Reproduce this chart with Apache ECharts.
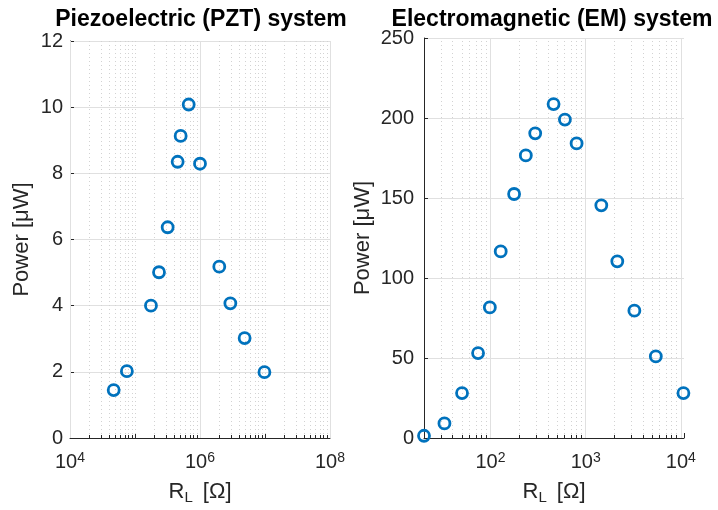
<!DOCTYPE html>
<html><head><meta charset="utf-8">
<script src="https://cdn.jsdelivr.net/npm/echarts@6/dist/echarts.min.js"></script>
<style>html,body{margin:0;padding:0;background:#fff}#c{width:718px;height:510px}</style>
</head><body><div id="c"></div>
<script>
// ---- data ----
const pztTitle = 'Piezoelectric (PZT) system';
const emTitle = 'Electromagnetic (EM) system';
const pztR = [4.7e4, 7.5e4, 1.76e5, 2.34e5, 3.18e5, 4.53e5, 5.04e5, 6.7e5, 1e6, 1.98e6, 2.93e6, 4.86e6, 9.8e6];
const pztP = [1.45, 2.02, 4.0, 5.01, 6.37, 8.35, 9.13, 10.08, 8.29, 5.18, 4.07, 3.02, 1.99];
const emR = [20, 32.8, 50.2, 74, 98.4, 128, 177, 235, 295, 460, 605, 803, 1460, 2150, 3250, 5460, 10650];
const emP = [1.4, 9.1, 28.1, 53.1, 81.6, 116.6, 152.5, 176.6, 190.4, 208.7, 199, 184.1, 145.4, 110.4, 79.6, 51, 28.1];
const pztXRange = [1e4, 1e8];
const emXRange = [20, 10800];
const pztYRange = [0, 12, 2];
const emYRange = [0, 250, 50];
const yName = 'Power [\u03bcW]';
const xName = 'R{sub|L} [\u03a9]';

// ---- styling ----
const FONT = '"Liberation Sans", Arial, Helvetica, sans-serif';
const AX = '#262626';
const BLUE = '#0072BD';

function gridLines(range, majorStep, tickLen) {
  const out = [];
  const k0 = Math.floor(Math.log10(range[0])), k1 = Math.ceil(Math.log10(range[1]));
  for (let k = k0; k <= k1; k++) {
    for (let m = 1; m <= 9; m++) {
      const v = m * Math.pow(10, k);
      if (v <= range[0] * 1.001 || v >= range[1] * 0.999) {
        if (!(m === 1 && v >= range[0] * 0.999 && v <= range[1] * 1.001)) continue;
      }
      const major = (m === 1 && (k % majorStep) === 0);
      out.push({
        xAxis: v,
        lineStyle: major ? {color: '#e0e0e0', type: 'solid', width: 1}
                         : {color: '#d2d2d2', type: [1, 3], width: 1}
      });
      if (!major) {
        out.push([
          {coord: [v, 0], lineStyle: {color: AX, type: 'solid', width: 1}},
          {coord: [v, tickLen]}
        ]);
      }
    }
  }
  return out;
}
function logLabel(step) {
  return function (v) {
    const l = Math.log10(v), e = Math.round(l);
    if (Math.abs(l - e) > 1e-6 || e % step !== 0) return '';
    return '10{sup|' + e + '}';
  };
}
const supRich = {sup: {fontSize: 14, fontFamily: FONT, color: AX, verticalAlign: 'top', padding: [0, 0, 9, 0]}};
const xNameStyle = {fontSize: 22, fontFamily: FONT, color: AX,
  rich: {sub: {fontSize: 15, fontFamily: FONT, color: AX, verticalAlign: 'bottom', padding: [12, 4, 0, 0]}}};

function xAxis(gi, range, step) {
  return {
    type: 'log', gridIndex: gi, min: range[0], max: range[1], logBase: 10,
    name: xName, nameLocation: 'middle', nameGap: 40, nameTextStyle: xNameStyle,
    axisLine: {show: true, lineStyle: {color: AX, width: 1}},
    axisTick: {show: true, inside: true, length: 5, lineStyle: {color: AX}},
    axisLabel: {formatter: logLabel(step), fontSize: 20, fontFamily: FONT, color: AX, margin: 13, rich: supRich, showMinLabel: true, showMaxLabel: true},
    splitLine: {show: false}
  };
}
function yAxis(gi, r, gap, margin) {
  return {
    type: 'value', gridIndex: gi, min: r[0], max: r[1], interval: r[2],
    name: yName, nameLocation: 'middle', nameGap: gap,
    nameTextStyle: {fontSize: 22, fontFamily: FONT, color: AX},
    axisLine: {show: true, lineStyle: {color: AX, width: 1}},
    axisTick: {show: true, inside: true, length: 4, lineStyle: {color: AX}},
    axisLabel: {fontSize: 20, fontFamily: FONT, color: AX, margin: margin},
    splitLine: {show: true, lineStyle: {color: '#e0e0e0', width: 1}}
  };
}
function scatter(gi, xs, ys, lines) {
  return {
    type: 'scatter', xAxisIndex: gi, yAxisIndex: gi,
    data: xs.map((x, i) => [x, ys[i]]),
    symbol: 'circle', symbolSize: 11, z: 5,
    itemStyle: {color: 'rgba(255,255,255,0)', borderColor: BLUE, borderWidth: 2.8, opacity: 1},
    emphasis: {disabled: true},
    markLine: {silent: true, symbol: 'none', label: {show: false}, animation: false, z: 1, data: lines}
  };
}

const chart = echarts.init(document.getElementById('c'), null, {renderer: 'canvas'});
chart.setOption({
  animation: false,
  backgroundColor: '#fff',
  title: [
    {text: pztTitle, left: 196, top: 3, textAlign: 'center', textStyle: {fontSize: 23, fontWeight: 'bold', fontFamily: FONT, color: '#000'}},
    {text: emTitle, left: 547, top: 3, textAlign: 'center', textStyle: {fontSize: 23, fontWeight: 'bold', fontFamily: FONT, color: '#000'}}
  ],
  grid: [
    {left: 70, top: 41, width: 260, height: 397},
    {left: 424, top: 38, width: 260, height: 400}
  ],
  xAxis: [xAxis(0, pztXRange, 2), xAxis(1, emXRange, 1)],
  yAxis: [yAxis(0, pztYRange, 37, 7), yAxis(1, emYRange, 50, 10)],
  series: [
    scatter(0, pztR, pztP, gridLines(pztXRange, 2, 0.09)),
    scatter(1, emR, emP, gridLines(emXRange, 1, 1.9))
  ]
});
</script></body></html>
